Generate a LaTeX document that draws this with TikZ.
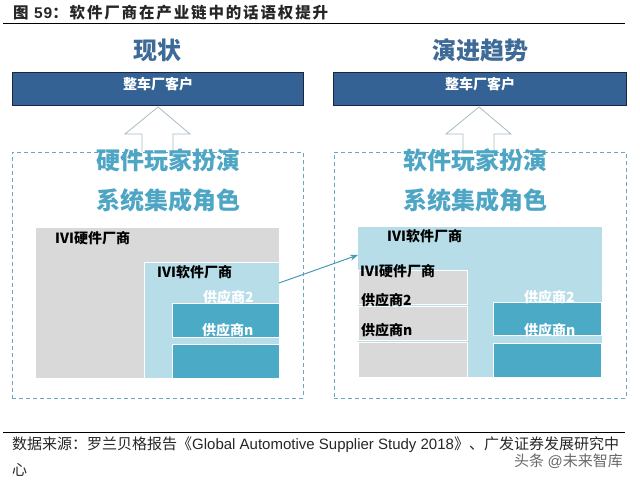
\documentclass[tikz,border=0pt]{standalone}
\usepackage{fontspec}
\setmainfont{Noto Sans CJK SC}
\newfontfamily\arial{Liberation Sans}
\newfontfamily\titlefont{Noto Sans CJK SC}[LetterSpace=12]
\newfontfamily\titlearial{Liberation Sans}[LetterSpace=6]
\usetikzlibrary{arrows.meta}
\definecolor{navy}{RGB}{52,98,148}
\definecolor{navyline}{RGB}{25,40,65}
\definecolor{steel}{RGB}{62,106,152}
\definecolor{tealtxt}{RGB}{78,166,196}
\definecolor{dashc}{RGB}{110,165,195}
\definecolor{arrc}{RGB}{165,188,198}
\definecolor{grayf}{RGB}{217,217,217}
\definecolor{lblue}{RGB}{183,222,232}
\definecolor{dteal}{RGB}{75,170,198}
\definecolor{connc}{RGB}{70,155,185}
\definecolor{wmk}{RGB}{105,105,105}
\begin{document}
\begin{tikzpicture}[x=1pt,y=-1pt,
  rect/.style={inner sep=0pt,outer sep=0pt,anchor=north west,draw=white,line width=0.8pt},
  topbox/.style={rect,fill=navy,draw=navyline,line width=1pt},
  dashbox/.style={rect,draw=dashc,dashed,dash pattern=on 4pt off 3pt,line width=0.8pt},
  lbl/.style={inner sep=0pt,anchor=west,font=\fontsize{14}{16}\selectfont\bfseries},
  big/.style={inner sep=0pt,font=\fontsize{24}{28}\selectfont\bfseries,text=tealtxt},
  head/.style={inner sep=0pt,font=\fontsize{24}{28}\selectfont\bfseries,text=steel},
  conn/.style={draw=connc,line width=1pt,-{Stealth[length=8pt,width=6pt]}},
  uparrow/.style={draw=arrc,line width=0.8pt}]
\useasboundingbox (0,0) rectangle (640,485);
% title
\node[inner sep=0pt,anchor=west,text=black!85] (title) at (13,13)
  {\titlefont\fontsize{15.5}{18}\selectfont\bfseries 图\ {\titlearial 59}：软件厂商在产业链中的话语权提升};
\draw[line width=1pt] (3,23) -- (625,23);
% headings
\node[head] (hL) at (157,50) {现状};
\node[head] (hR) at (480,50) {演进趋势};
% top boxes
\node[topbox,minimum width=291pt,minimum height=33pt] (boxL) at (12,72) {};
\node[topbox,minimum width=293pt,minimum height=33pt] (boxR) at (333,72) {};
\node[inner sep=0pt,text=white,font=\fontsize{14}{16}\selectfont\bfseries] (tBoxL) at (158,84) {整车厂客户};
\node[inner sep=0pt,text=white,font=\fontsize{14}{16}\selectfont\bfseries] (tBoxR) at (480,84) {整车厂客户};
% block up arrows
\draw[uparrow] (142,152) -- (142,134) -- (125,134) -- (158,107) -- (190,134) -- (173,134) -- (173,152);
\draw[uparrow] (463,152) -- (463,134) -- (446,134) -- (479,107) -- (511,134) -- (494,134) -- (494,152);
% dashed frames
\node[dashbox,minimum width=291pt,minimum height=246pt] (dashL) at (12,152) {};
\node[dashbox,minimum width=292pt,minimum height=246pt] (dashR) at (334,152) {};
% big teal texts
\node[big] (bL1) at (168,160) {硬件玩家扮演};
\node[big] (bL2) at (168,200) {系统集成角色};
\node[big] (bR1) at (475,160) {软件玩家扮演};
\node[big] (bR2) at (475,200) {系统集成角色};
% left inner diagram
\node[rect,fill=grayf,draw=none,minimum width=243pt,minimum height=150pt] (grayL) at (36,228) {};
\node[rect,fill=lblue,minimum width=135pt,minimum height=116pt] (lbL) at (144,262) {};
\node[rect,fill=dteal,minimum width=107pt,minimum height=34pt] (tealL1) at (172,303) {};
\node[rect,fill=dteal,minimum width=107pt,minimum height=34pt] (tealL2) at (172,344) {};
\node[lbl] (lHw) at (55,238) {IVI硬件厂商};
\node[lbl] (lSw) at (157,272) {IVI软件厂商};
\node[lbl,text=white] (lS2) at (203,297) {供应商2};
\node[lbl,text=white] (lSn) at (202,330) {供应商n};
% right inner diagram
\node[rect,fill=lblue,draw=none,minimum width=244pt,minimum height=150pt] (lbR) at (358,227) {};
\node[rect,fill=grayf,minimum width=109pt,minimum height=34pt] (grayR1) at (358,270) {};
\node[rect,fill=grayf,minimum width=109pt,minimum height=34pt] (grayR2) at (358,306) {};
\node[rect,fill=grayf,minimum width=109pt,minimum height=35pt] (grayR3) at (358,342) {};
\node[rect,fill=dteal,minimum width=108pt,minimum height=33pt] (tealR1) at (493,302) {};
\node[rect,fill=dteal,minimum width=108pt,minimum height=34pt] (tealR2) at (493,343) {};
\node[lbl] (rSw) at (387,236) {IVI软件厂商};
\node[lbl] (rHw) at (360,271) {IVI硬件厂商};
\node[lbl] (rS2a) at (361,300) {供应商2};
\node[lbl] (rSna) at (361,330) {供应商n};
\node[lbl,text=white] (rS2b) at (524,297) {供应商2};
\node[lbl,text=white] (rSnb) at (524,330) {供应商n};
% connector
\draw[conn] ([yshift=-21pt]lbL.north east) -- ([yshift=-28pt]lbR.north west);
% footer
\draw[line width=1pt] (3,432) -- (625,432);
\node[inner sep=0pt,anchor=west,font=\fontsize{15}{18}\selectfont,text=black!85] (src) at (12,445)
  {数据来源：罗兰贝格报告《{\arial Global Automotive Supplier Study 2018}》、广发证券发展研究中};
\node[inner sep=0pt,anchor=west,font=\fontsize{15}{18}\selectfont,text=black!85] (src2) at (12,470) {心};
\node[inner sep=0pt,anchor=east,font=\fontsize{15}{18}\selectfont,text=wmk] (wm) at (623,461) {头条 {\arial @}未来智库};
\end{tikzpicture}
\end{document}
